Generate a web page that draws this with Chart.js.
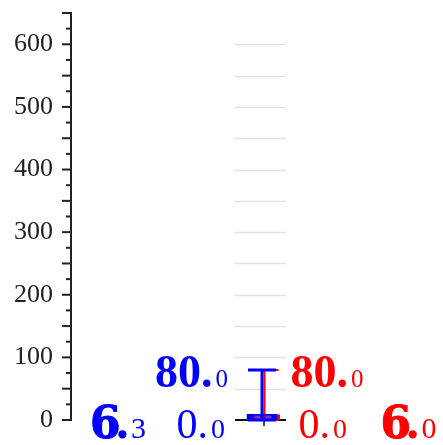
<!DOCTYPE html>
<html><head><meta charset="utf-8">
<script src="https://cdn.jsdelivr.net/npm/chart.js@4"></script>
<style>html,body{margin:0;padding:0;background:#fff;overflow:hidden}canvas{display:block}</style>
</head><body>
<canvas id="c" width="443" height="445"></canvas>
<script>
// ---- data ----
const categories = ['A'];
const blueMean = [6.3];
const blueLow  = [0.0];
const blueHigh = [80.0];
const redMean  = [6.0];
const redLow   = [0.0];
const redHigh  = [80.0];
const yTickLabels = [0, 100, 200, 300, 400, 500, 600];

// ---- styles ----
const BLUE = '#0000ff', RED = '#ff0000';
const SERIF = '"Liberation Serif", "Times New Roman", serif';
const HEAVY = '"DejaVu Serif", serif';

const seriesStyle = [
  { color: BLUE, fill: 'rgba(0,0,255,0.55)', shift: -1, lw: 3, side: 'left',
    topDx: -34, lowDx: -37, meanDx: -116 },
  { color: RED, fill: 'rgba(255,0,0,0.55)', shift: 1.5, lw: 2, side: 'right',
    topDx: 26, lowDx: 34, meanDx: 116 }
];
const lows = [blueLow, redLow], highs = [blueHigh, redHigh], means = [blueMean, redMean];

function splitNum(v) {
  const s = v.toFixed(1);
  const k = s.indexOf('.') + 1;
  return [s.slice(0, k), s.slice(k)];
}

function drawPieces(ctx, pieces, x, y, align, color) {
  ctx.fillStyle = color;
  ctx.strokeStyle = color;
  ctx.textBaseline = 'alphabetic';
  ctx.textAlign = 'left';
  const widths = pieces.map(p => { ctx.font = p.font; return ctx.measureText(p.text).width + (p.kern || 0); });
  const total = widths.reduce((a, b) => a + b, 0);
  let cx = align === 'right' ? x - total : x;
  pieces.forEach((p, i) => {
    ctx.font = p.font;
    ctx.fillText(p.text, cx, y);
    if (p.stroke) { ctx.lineWidth = p.stroke; ctx.strokeText(p.text, cx, y); }
    cx += widths[i];
  });
}

const plugin = {
  id: 'errbars',
  afterDatasetsUpdate(chart) {
    chart.data.datasets.forEach((ds, di) => {
      chart.getDatasetMeta(di).data.forEach(el => { el.x += seriesStyle[di].shift; });
    });
  },
  beforeDatasetsDraw(chart) {
    const {ctx, scales: {x, y}} = chart;
    ctx.save();
    categories.forEach((c, i) => {
      const cx = x.getPixelForValue(i);
      const left = cx - 28, right = cx + 23;
      ctx.strokeStyle = '#e2e2e2';
      ctx.lineWidth = 1.5;
      for (let v = 50; v <= 600; v += 50) {
        const py = Math.round(y.getPixelForValue(v)) + 0.5;
        ctx.beginPath(); ctx.moveTo(left, py); ctx.lineTo(right, py); ctx.stroke();
      }
      const y0 = y.getPixelForValue(0);
      ctx.strokeStyle = '#111';
      ctx.lineWidth = 2;
      ctx.beginPath(); ctx.moveTo(left, y0); ctx.lineTo(right, y0); ctx.stroke();
      ctx.lineWidth = 1.5;
      ctx.beginPath(); ctx.moveTo(cx + 1, y0); ctx.lineTo(cx + 1, y0 + 6); ctx.stroke();
    });
    ctx.restore();
  },
  afterDatasetDraw(chart, args) {
    const di = args.index, st = seriesStyle[di];
    const {ctx, scales: {y}} = chart;
    const meta = chart.getDatasetMeta(di);
    ctx.save();
    ctx.strokeStyle = st.color;
    ctx.lineWidth = st.lw;
    meta.data.forEach((el, i) => {
      const cx = el.x;
      const yl = y.getPixelForValue(lows[di][i]);
      const yh = y.getPixelForValue(highs[di][i]);
      ctx.beginPath();
      ctx.moveTo(cx, yl); ctx.lineTo(cx, yh);
      ctx.moveTo(cx - 14, yh); ctx.lineTo(cx + 14, yh);
      ctx.moveTo(cx - 14, yl); ctx.lineTo(cx + 14, yl);
      ctx.stroke();
    });
    ctx.restore();
  },
  afterDraw(chart) {
    const {ctx, scales: {y}, chartArea} = chart;
    ctx.save();
    ctx.strokeStyle = '#222';
    ctx.lineWidth = 2;
    const ax = chartArea.left;
    y.ticks.forEach(t => {
      const py = y.getPixelForValue(t.value);
      const len = t.value % 50 === 0 ? 9 : 5;
      ctx.beginPath(); ctx.moveTo(ax - len, py); ctx.lineTo(ax, py); ctx.stroke();
    });
    chart.data.datasets.forEach((ds, di) => {
      const st = seriesStyle[di];
      const align = st.side === 'left' ? 'right' : 'left';
      chart.getDatasetMeta(di).data.forEach((el, i) => {
        const y0 = y.getPixelForValue(0);
        const yh = y.getPixelForValue(highs[di][i]);
        const yl = y.getPixelForValue(lows[di][i]);
        const [hh, ht] = splitNum(highs[di][i]);
        drawPieces(ctx, [
          {text: hh, font: 'bold 46px ' + SERIF, kern: 3},
          {text: ht, font: '25px ' + SERIF}
        ], el.x + st.topDx, yh + 17, align, st.color);
        const [lh, lt] = splitNum(lows[di][i]);
        drawPieces(ctx, [
          {text: lh, font: '42px ' + SERIF, kern: 3},
          {text: lt, font: '28px ' + SERIF}
        ], el.x + st.lowDx, yl + 18, align, st.color);
        const [mh, mt] = splitNum(means[di][i]);
        drawPieces(ctx, [
          {text: mh.slice(0, -1), font: 'bold 44px ' + HEAVY, kern: -6, stroke: 1},
          {text: '.', font: 'bold 44px ' + HEAVY, kern: 1},
          {text: mt, font: '30px ' + SERIF}
        ], el.x + st.meanDx, y0 + 18, align, st.color);
      });
    });
    ctx.restore();
  }
};

const mk = (vals) => categories.map((c, i) => ({x: i, y: vals[i]}));

new Chart(document.getElementById('c'), {
  type: 'bar',
  data: {
    datasets: [
      { label: 'blue', data: mk(blueMean), backgroundColor: seriesStyle[0].fill,
        borderColor: BLUE, borderWidth: 2, borderSkipped: false, inflateAmount: 2 },
      { label: 'red', data: mk(redMean), backgroundColor: seriesStyle[1].fill,
        borderColor: RED, borderWidth: 2, borderSkipped: false, inflateAmount: 2 }
    ]
  },
  options: {
    responsive: false,
    animation: false,
    events: [],
    grouped: false,
    maxBarThickness: 27,
    layout: { padding: { top: 13, bottom: 25, left: 0, right: 0 } },
    plugins: { legend: { display: false }, tooltip: { enabled: false } },
    scales: {
      x: { type: 'linear', display: false, offset: false, min: -192, max: 180, ticks: { stepSize: 1000 } },
      y: {
        min: 0, max: 650,
        afterFit(s) { s.width = 71; s.paddingTop = 0; s.paddingBottom = 0; },
        grid: { display: true, drawOnChartArea: false, drawTicks: false, color: 'rgba(0,0,0,0)' },
        border: { display: true, color: '#222', width: 2 },
        ticks: {
          stepSize: 25, padding: 18, color: '#222',
          font: { family: SERIF, size: 26 },
          autoSkip: false,
          callback: v => yTickLabels.includes(v) ? String(v) : ''
        }
      }
    }
  },
  plugins: [plugin]
});
</script>
</body></html>
